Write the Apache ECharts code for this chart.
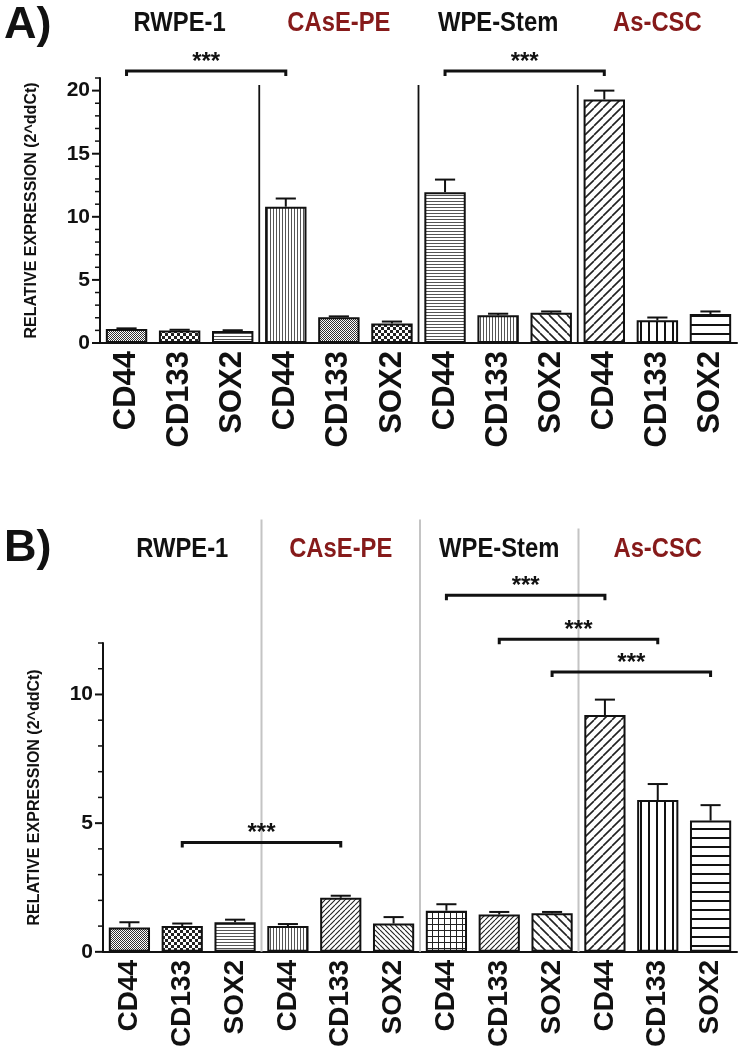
<!DOCTYPE html>
<html><head><meta charset="utf-8">
<script src="https://cdn.jsdelivr.net/npm/echarts@6/dist/echarts.min.js"></script>
<style>html,body{margin:0;padding:0;background:#fff}#c{width:741px;height:1050px}</style>
</head><body><div id="c"></div>
<script>
// ---------- data ----------
const categories = ['CD44','CD133','SOX2','CD44','CD133','SOX2','CD44','CD133','SOX2','CD44','CD133','SOX2'];
const groups = ['RWPE-1','CAsE-PE','WPE-Stem','As-CSC'];
const valuesA = [1.1, 1.0, 0.95, 10.8, 2.05, 1.55, 11.95, 2.2, 2.4, 19.3, 1.8, 2.3];
const errorsA = [0.06, 0.05, 0.06, 0.65, 0.06, 0.15, 1.0, 0.12, 0.1, 0.7, 0.22, 0.2];
const valuesB = [0.95, 1.0, 1.15, 1.0, 2.1, 1.1, 1.6, 1.45, 1.5, 9.2, 5.9, 5.1];
const errorsB = [0.2, 0.1, 0.1, 0.08, 0.08, 0.25, 0.25, 0.1, 0.05, 0.6, 0.62, 0.6];
const yTicksA = [0, 5, 10, 15, 20];
const yTicksB = [0, 5, 10];
const yMaxA = 21;
const yMaxB = 12;
// significance brackets: [from category, to category, level]
const bracketsA = [[0, 3, 21.55], [6, 9, 21.55]];
const bracketsB = [[6, 9, 13.86], [7, 10, 12.15], [8, 11, 10.87], [1, 4, 4.25]];
const sigLabel = '***';
// group separators: [after category, top level]
const separatorsA = [[2, 20.45], [5, 20.45], [8, 20.45]];
const separatorsB = [[2, 16.8], [5, 16.8], [8, 16.45]];
const yName = 'RELATIVE EXPRESSION (2^ddCt)';

// ---------- styles ----------
const patternsA = ['fine','checker','hline','vline','fine','checker','hline','vline','diagB','diagF','vlineW','hlineW'];
const patternsB = ['fine','checker','hline','vline','diagFd','diagBd','grid','diagFd','diagB','diagF','vlineW','hlineW'];
const darkRed = '#861a1a';
const ink = '#111';
const sans = "'Liberation Sans', Arial, sans-serif";

function pat(type) {
  const c = document.createElement('canvas');
  const cfg = {
    fine: [2, 2], checker: [6, 6], hline: [4, 3], vline: [3, 4], vlineW: [8, 4], hlineW: [4, 9],
    diagF: [9, 9], diagB: [9, 9], diagFd: [5, 5], diagBd: [5, 5], grid: [6, 6]
  }[type];
  const w = cfg[0], h = cfg[1];
  c.width = w; c.height = h;
  const g = c.getContext('2d');
  g.fillStyle = '#fff'; g.fillRect(0, 0, w, h);
  g.fillStyle = '#333'; g.strokeStyle = '#222';
  if (type === 'fine') { g.fillRect(0, 0, 1, 1); g.fillRect(1, 1, 1, 1); }
  else if (type === 'checker') { g.fillStyle = '#222'; g.fillRect(0, 0, 3, 3); g.fillRect(3, 3, 3, 3); }
  else if (type === 'hline') { g.fillStyle = '#555'; g.fillRect(0, 0, w, 1); }
  else if (type === 'vline') { g.fillStyle = '#555'; g.fillRect(0, 0, 1, h); }
  else if (type === 'vlineW') { g.fillStyle = '#111'; g.fillRect(0, 0, 2, h); }
  else if (type === 'hlineW') { g.fillStyle = '#111'; g.fillRect(0, 0, w, 2); }
  else if (type === 'grid') { g.fillStyle = '#222'; g.fillRect(0, 0, w, 1); g.fillRect(0, 0, 1, h); }
  else {
    const fwd = type.startsWith('diagF');
    g.lineWidth = type.endsWith('d') ? 1.1 : 1.6;
    g.beginPath();
    for (let k = -1; k <= 1; k++) {
      if (fwd) { g.moveTo(k * w, h); g.lineTo(k * w + w, 0); }
      else { g.moveTo(k * w, 0); g.lineTo(k * w + w, h); }
    }
    g.stroke();
  }
  return { image: c, repeat: 'repeat' };
}

function errorRender(params, api) {
  const x = api.value(0), v = api.value(1), e = api.value(2);
  const base = api.coord([x, v]);
  const top = api.coord([x, v + e]);
  const hw = api.size([1, 0])[0] * 0.19;
  const st = { stroke: ink, lineWidth: 2 };
  return { type: 'group', children: [
    { type: 'line', shape: { x1: base[0], y1: base[1], x2: top[0], y2: top[1] }, style: st },
    { type: 'line', shape: { x1: top[0] - hw, y1: top[1], x2: top[0] + hw, y2: top[1] }, style: st }
  ]};
}
function bracketRender(params, api) {
  const a = api.coord([api.value(0), api.value(2)]);
  const b = api.coord([api.value(1), api.value(2)]);
  const y = a[1], d = 5;
  return { type: 'group', children: [
    { type: 'polyline', shape: { points: [[a[0], y + d], [a[0], y], [b[0], y], [b[0], y + d]] },
      style: { stroke: ink, lineWidth: 3, fill: null } },
    { type: 'text', x: (a[0] + b[0]) / 2, y: y - 9,
      style: { text: sigLabel, fill: ink, font: 'bold 24px ' + sans, textAlign: 'center', textVerticalAlign: 'middle' } }
  ]};
}
function groupRender(offset) {
  return function (params, api) {
    const p = api.coord([api.value(0), api.value(1)]);
    return { type: 'text', x: p[0], y: p[1] - offset, scaleX: 0.85,
      style: { text: groups[params.dataIndex], fill: params.dataIndex % 2 ? darkRed : ink,
        font: 'bold 28px ' + sans, textAlign: 'center', textVerticalAlign: 'middle' } };
  };
}
function sepRender(color, width) {
  return function (params, api) {
    const k = api.value(0);
    const p0 = api.coord([k, 0]);
    const p1 = api.coord([k + 1, 0]);
    const top = api.coord([k, api.value(1)]);
    const x = (p0[0] + p1[0]) / 2;
    return { type: 'line', shape: { x1: x, y1: p0[1], x2: x, y2: top[1] }, style: { stroke: color, lineWidth: width } };
  };
}
// y-axis ticks drawn on the value axis scale
function tickRender(len, width) {
  return function (params, api) {
    const p = api.coord([0, api.value(1)]);
    const x0 = p[0] - api.size([1, 0])[0] / 2;
    return { type: 'line', shape: { x1: x0 - len, y1: p[1], x2: x0, y2: p[1] }, style: { stroke: ink, lineWidth: width } };
  };
}
function minorTicks(max, major) {
  const out = [];
  for (let v = 0; v <= max; v++) if (v % major !== 0) out.push(v);
  return out;
}

const grids = [
  { left: 100, right: 4, top: 78, height: 265 },
  { left: 103, right: 4, top: 643, height: 309 }
];

function xAxis(gi, fs) {
  return { type: 'category', gridIndex: gi, data: categories,
    axisLine: { lineStyle: { color: ink, width: 2 } },
    axisTick: { alignWithLabel: true, length: 6, lineStyle: { color: ink, width: 2 } },
    axisLabel: { rotate: 90, fontSize: fs, fontWeight: 'bold', fontFamily: sans, color: ink, margin: 8, interval: 0 } };
}
function yAxis(gi, max, ticks) {
  return { type: 'value', gridIndex: gi, min: 0, max: max,
    name: yName, nameLocation: 'middle', nameRotate: 90, nameGap: 60,
    nameTextStyle: { fontSize: 16, fontWeight: 'bold', fontFamily: sans, color: ink },
    axisLine: { show: true, lineStyle: { color: ink, width: 2 } },
    axisTick: { show: false },
    axisLabel: { customValues: ticks, fontSize: 21, fontWeight: 'bold', fontFamily: sans, color: ink, margin: 10 },
    splitLine: { show: false } };
}

function panelSeries(idx, values, errors, patterns, brackets, seps, sepColor, sepWidth, yMax, groupOffset, ticks) {
  return [
    { type: 'custom', xAxisIndex: idx, yAxisIndex: idx, renderItem: sepRender(sepColor, sepWidth),
      data: seps, clip: false, z: 1, silent: true },
    { type: 'bar', xAxisIndex: idx, yAxisIndex: idx, barWidth: '78%', z: 3,
      itemStyle: { borderColor: ink, borderWidth: 2 },
      data: values.map((v, i) => ({ value: v, itemStyle: { color: pat(patterns[i]) } })) },
    { type: 'custom', xAxisIndex: idx, yAxisIndex: idx, renderItem: errorRender, z: 4,
      data: values.map((v, i) => [i, v, errors[i]]), clip: false },
    { type: 'custom', xAxisIndex: idx, yAxisIndex: idx, renderItem: bracketRender, z: 5,
      data: brackets, clip: false },
    { type: 'custom', xAxisIndex: idx, yAxisIndex: idx, renderItem: groupRender(groupOffset), z: 5,
      data: groups.map((g, i) => [i * 3 + 1, yMax]), clip: false, silent: true },
    { type: 'custom', xAxisIndex: idx, yAxisIndex: idx, renderItem: tickRender(8, 2), z: 5,
      data: ticks.map(t => [0, t]), clip: false, silent: true },
    { type: 'custom', xAxisIndex: idx, yAxisIndex: idx, renderItem: tickRender(5, 1.5), z: 5,
      data: minorTicks(yMax, 5).map(t => [0, t]), clip: false, silent: true }
  ];
}

const chart = echarts.init(document.getElementById('c'), null, { renderer: 'canvas' });
chart.setOption({
  animation: false,
  backgroundColor: '#fff',
  grid: grids,
  xAxis: [xAxis(0, 31), xAxis(1, 28)],
  yAxis: [yAxis(0, yMaxA, yTicksA), yAxis(1, yMaxB, yTicksB)],
  graphic: [
    { type: 'text', left: 4, top: 3, style: { text: 'A)', font: 'bold 45px ' + sans, fill: ink } },
    { type: 'text', left: 4, top: 526, style: { text: 'B)', font: 'bold 45px ' + sans, fill: ink } }
  ],
  series: [
    ...panelSeries(0, valuesA, errorsA, patternsA, bracketsA, separatorsA, ink, 1.8, yMaxA, 55, yTicksA),
    ...panelSeries(1, valuesB, errorsB, patternsB, bracketsB, separatorsB, '#c4c4c4', 2, yMaxB, 94, yTicksB)
  ]
});
</script>
</body></html>
